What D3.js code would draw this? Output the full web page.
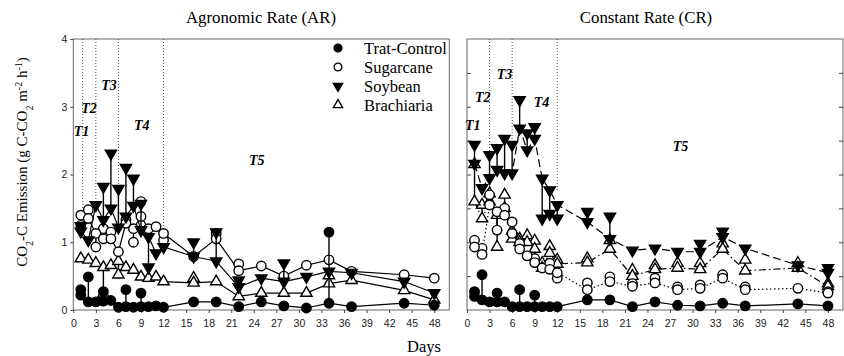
<!DOCTYPE html>
<html>
<head>
<meta charset="utf-8">
<script src="https://cdn.jsdelivr.net/npm/d3@7"></script>
<style>
  body { margin: 0; background: #fff; }
</style>
</head>
<body>
<div id="chart"></div>
<script>
// sampling days
const days = [1, 2, 3, 4, 5, 6, 7, 8, 9, 10, 11, 12, 16, 19, 22, 25, 28, 31, 34, 37, 44, 48];
const seriesNames = ["Trat-Control", "Sugarcane", "Soybean", "Brachiaria"];
const xTicks = [0, 3, 6, 9, 12, 15, 18, 21, 24, 27, 30, 33, 36, 39, 42, 45, 48];
const yTicks = [0, 1, 2, 3, 4];

// Agronomic Rate: means and error (signed, drawn one side)
const arControl = [0.22, 0.12, 0.12, 0.13, 0.14, 0.04, 0.05, 0.04, 0.05, 0.05, 0.06, 0.04, 0.12, 0.12, 0.05, 0.12, 0.06, 0.03, 0.10, 0.05, 0.10, 0.07];
const arControlErr = [0.08, 0.37, 0, 0.14, 0, 0, 0.25, 0, 0.2, 0, 0, 0, 0, 0, 0, 0, 0, 0, 1.05, 0, 0, 0];
const arSugarcane = [1.25, 1.35, 1.13, 1.05, 1.05, 0.86, 1.28, 1.2, 1.38, 1.2, 1.23, 1.13, 0.79, 1.05, 0.58, 0.65, 0.5, 0.66, 0.74, 0.57, 0.52, 0.47];
const arSugarcaneErr = [0.15, 0.13, -0.2, 0.15, 0.1, 0, 0.05, -0.2, 0.22, 0, 0, -0.1, 0, 0.08, 0.1, 0, 0, 0, 0, 0, 0, 0];
const arSoybean = [1.16, 1.03, 1.55, 1.33, 1.5, 1.22, 1.38, 1.54, 1.18, 1.08, 0.84, 0.93, 0.79, 0.72, 0.34, 0.47, 0.42, 0.49, 0.57, 0.55, 0.42, 0.25];
const arSoybeanErr = [0.08, 0, 0, 0.49, 0.81, 0.57, 0.72, 0.4, 0.39, -0.45, 0, 0, 0.21, 0.43, 0.1, 0, 0.27, 0, 0, 0, 0, 0];
const arBrachiaria = [0.76, 0.74, 0.69, 0.63, 0.66, 0.72, 0.63, 0.59, 0.49, 0.47, 0.49, 0.42, 0.4, 0.42, 0.2, 0.25, 0.25, 0.25, 0.39, 0.44, 0.29, 0.15];
const arBrachiariaErr = [0, 0, 0, -0.39, 0, -0.2, 0, 0, 0, 0, 0, 0, 0.07, 0, 0, 0, 0, 0, 0.12, 0, 0, 0];

// Constant Rate
const crControl = [0.2, 0.15, 0.12, 0.12, 0.12, 0.05, 0.05, 0.05, 0.05, 0.05, 0.05, 0.05, 0.15, 0.15, 0.05, 0.12, 0.07, 0.06, 0.1, 0.06, 0.09, 0.06];
const crControlErr = [0.07, 0.37, 0, 0.13, 0, 0, 0.25, 0, 0.17, 0, 0, 0, 0, 0, 0, 0, 0, 0, 0, 0, 0, 0];
const crSugarcane = [0.93, 0.82, 1.55, 1.45, 1.4, 1.3, 0.9, 0.8, 0.7, 0.62, 0.6, 0.55, 0.3, 0.42, 0.35, 0.4, 0.3, 0.32, 0.47, 0.3, 0.32, 0.25];
const crSugarcaneErr = [0.1, 0.09, 0.15, -0.27, 0.1, -0.17, 0.08, 0, 0.06, 0, 0.09, -0.08, 0.1, 0.07, 0.04, 0.07, 0.04, 0.05, 0.05, 0.04, 0, 0.02];
const crSoybean = [2.16, 1.8, 1.95, 2.07, 2.02, 2.02, 2.68, 2.36, 2.53, 1.94, 1.77, 1.55, 1.3, 1.05, 0.88, 0.91, 0.86, 0.86, 1.08, 0.91, 0.66, 0.55];
const crSoybeanErr = [0.28, 0, 0.34, 0.32, 0.51, 0.42, 0.42, 0.25, 0.17, -0.59, -0.35, -0.2, 0.15, 0.33, 0, 0, 0, 0.12, 0.08, 0, 0, 0.07];
const crBrachiaria = [1.6, 1.35, 1.6, 1.4, 1.5, 1.05, 1.0, 1.0, 0.9, 0.62, 0.84, 0.68, 0.7, 0.9, 0.5, 0.6, 0.62, 0.6, 0.9, 0.58, 0.62, 0.35];
const crBrachiariaErr = [0.55, 0.2, 0.12, -0.47, 0.2, 0.12, 0.05, 0.1, 0.12, 0.07, 0.1, 0.06, 0.06, 0.13, 0.09, 0.06, 0.07, 0.09, 0.08, 0.16, 0.07, 0.04];

// phase boundaries (day, lower end of dotted line) and phase labels
const arBoundDays = [1.25, 3, 6, 12];
const arBoundLow = [1.48, 1.57, 1.38, 1.13];
const crBoundDays = [3, 6, 12];
const crBoundLow = [1.92, 2.46, 1.77];
const phaseLabels = ["T1", "T2", "T3", "T4", "T5"];
const arLabelDay = [1.1, 2.1, 4.75, 9.1, 24.4];
const arLabelVal = [2.63, 2.97, 3.32, 2.73, 2.21];
const crLabelDay = [0.76, 2.1, 5.0, 9.9, 28.4];
const crLabelVal = [2.73, 3.13, 3.47, 3.07, 2.41];

const width = 844, height = 356;
const serif = "'Liberation Serif', 'Times New Roman', serif";
const sans = "'Liberation Sans', Arial, sans-serif";

let svg = d3.select("#chart").append("svg")
  .attr("width", width)
  .attr("height", height);

let yScale = d3.scaleLinear().domain([0, 4]).range([310, 39]);

// symbol per series
let symbolGenerator = d3.symbol();
const symbolStyles = [
  { d: symbolGenerator.type(d3.symbolCircle).size(70)(), fill: "#000", rot: 0 },
  { d: symbolGenerator.type(d3.symbolCircle).size(70)(), fill: "#fff", rot: 0 },
  { d: symbolGenerator.type(d3.symbolTriangle).size(55)(), fill: "#000", rot: 180 },
  { d: symbolGenerator.type(d3.symbolTriangle).size(55)(), fill: "#fff", rot: 0 }
];

function drawPanel(opts) {
  let xScale = d3.scaleLinear().domain([0, 50]).range([opts.x0, opts.x1]);
  let g = svg.append("g");

  // frame
  g.append("rect")
    .attr("x", opts.x0).attr("y", yScale(4))
    .attr("width", opts.x1 - opts.x0).attr("height", yScale(0) - yScale(4))
    .attr("fill", "none").attr("stroke", "#666").attr("stroke-width", 1);

  // x axis
  let xAxis = d3.axisBottom(xScale).tickValues(xTicks).tickSize(3).tickSizeOuter(0);
  let gx = g.append("g").attr("transform", `translate(0, ${yScale(0)})`).call(xAxis);
  gx.select(".domain").remove();
  gx.selectAll("line").attr("stroke", "#444");
  gx.selectAll("text").attr("font-family", sans).attr("font-size", 10.5).attr("fill", "#222").attr("dy", "1.0em");

  if (opts.labels) {
    let yAxis = d3.axisLeft(yScale).tickValues(yTicks).tickSize(3).tickSizeOuter(0).tickFormat(d3.format("d"));
    let gy = g.append("g").attr("transform", `translate(${opts.x0}, 0)`).call(yAxis);
    gy.select(".domain").remove();
    gy.selectAll("line").attr("stroke", "#444");
    gy.selectAll("text").attr("font-family", sans).attr("font-size", 10.5).attr("fill", "#222");
  } else {
    let halfTicks = d3.range(0.5, 4, 0.5);
    let gl = g.append("g").attr("transform", `translate(${opts.x0}, 0)`)
      .call(d3.axisLeft(yScale).tickValues(halfTicks).tickSize(-4).tickFormat(""));
    let gr = g.append("g").attr("transform", `translate(${opts.x1}, 0)`)
      .call(d3.axisRight(yScale).tickValues(halfTicks).tickSize(-4).tickFormat(""));
    [gl, gr].forEach(a => { a.select(".domain").remove(); a.selectAll("line").attr("stroke", "#444"); });
  }

  // phase boundaries
  g.append("g").selectAll("line")
    .data(opts.boundDays)
    .enter().append("line")
    .attr("x1", d => xScale(d)).attr("x2", d => xScale(d))
    .attr("y1", yScale(4))
    .attr("y2", (d, i) => yScale(opts.boundLow[i]))
    .attr("stroke", "#555").attr("stroke-width", 1).attr("stroke-dasharray", "1,2");

  // phase labels
  g.append("g").selectAll("text")
    .data(phaseLabels)
    .enter().append("text")
    .attr("x", (d, i) => xScale(opts.labelDay[i]))
    .attr("y", (d, i) => yScale(opts.labelVal[i]))
    .attr("text-anchor", "middle").attr("dominant-baseline", "central")
    .attr("font-family", serif).attr("font-size", 14)
    .attr("font-weight", "bold").attr("font-style", "italic")
    .text(d => d);

  // title
  g.append("text")
    .attr("x", opts.titleX).attr("y", 23)
    .attr("text-anchor", "middle")
    .attr("font-family", serif).attr("font-size", 16.8)
    .text(opts.title);

  // draw order: Brachiaria, Sugarcane, Soybean, Control
  let order = [3, 1, 2, 0];
  let line = d3.line().x((d, i) => xScale(days[i])).y(d => yScale(d));

  order.forEach(s => {
    g.append("path")
      .datum(opts.means[s])
      .attr("d", line)
      .attr("fill", "none").attr("stroke", "#000").attr("stroke-width", 1.2)
      .attr("stroke-dasharray", opts.dashes[s]);
  });

  order.forEach(s => {
    let means = opts.means[s], errs = opts.errs[s];
    let idx = Array.from(Array(means.length).keys());
    let withErr = idx.filter(i => errs[i] !== 0);
    let sg = g.append("g");
    // error bars
    sg.selectAll(".err")
      .data(withErr)
      .enter().append("line")
      .attr("x1", i => xScale(days[i])).attr("x2", i => xScale(days[i]))
      .attr("y1", i => yScale(means[i]))
      .attr("y2", i => yScale(Math.max(0, means[i] + errs[i])))
      .attr("stroke", "#000").attr("stroke-width", 1.4);
    // symbols at error bar ends
    sg.selectAll(".cap")
      .data(withErr.filter(i => means[i] + errs[i] > 0.02))
      .enter().append("path")
      .attr("d", symbolStyles[s].d)
      .attr("transform", i => `translate(${xScale(days[i])}, ${yScale(means[i] + errs[i])}) rotate(${symbolStyles[s].rot})`)
      .attr("fill", symbolStyles[s].fill).attr("stroke", "#000").attr("stroke-width", 1.4);
    // symbols at means
    sg.selectAll(".pt")
      .data(idx)
      .enter().append("path")
      .attr("d", symbolStyles[s].d)
      .attr("transform", i => `translate(${xScale(days[i])}, ${yScale(means[i])}) rotate(${symbolStyles[s].rot})`)
      .attr("fill", symbolStyles[s].fill).attr("stroke", "#000").attr("stroke-width", 1.4);
  });
}

drawPanel({
  x0: 73.3, x1: 449.3, labels: true,
  title: "Agronomic Rate (AR)", titleX: 261,
  means: [arControl, arSugarcane, arSoybean, arBrachiaria],
  errs: [arControlErr, arSugarcaneErr, arSoybeanErr, arBrachiariaErr],
  dashes: [null, null, null, null],
  boundDays: arBoundDays, boundLow: arBoundLow,
  labelDay: arLabelDay, labelVal: arLabelVal
});

drawPanel({
  x0: 467, x1: 843, labels: false,
  title: "Constant Rate (CR)", titleX: 646,
  means: [crControl, crSugarcane, crSoybean, crBrachiaria],
  errs: [crControlErr, crSugarcaneErr, crSoybeanErr, crBrachiariaErr],
  dashes: [null, "1.5,2.5", "8,4", "7,3,1.5,3"],
  boundDays: crBoundDays, boundLow: crBoundLow,
  labelDay: crLabelDay, labelVal: crLabelVal
});

// legend
let legend = svg.append("g");
seriesNames.forEach((name, i) => {
  let yy = 48 + i * 19;
  legend.append("path")
    .attr("d", symbolGenerator.type(i < 2 ? d3.symbolCircle : d3.symbolTriangle).size(i < 2 ? 48 : 38)())
    .attr("transform", `translate(338, ${yy}) rotate(${symbolStyles[i].rot})`)
    .attr("fill", symbolStyles[i].fill).attr("stroke", "#000").attr("stroke-width", 1.3);
  legend.append("text")
    .attr("x", 364).attr("y", yy)
    .attr("dominant-baseline", "central")
    .attr("font-family", serif).attr("font-size", 16.5)
    .text(name);
});

// y axis title
let yTitle = svg.append("text")
  .attr("transform", "translate(27, 162) rotate(-90)")
  .attr("text-anchor", "middle")
  .attr("font-family", serif).attr("font-size", 15);
yTitle.append("tspan").text("CO");
yTitle.append("tspan").attr("baseline-shift", "sub").attr("font-size", 10).text("2");
yTitle.append("tspan").text("-C Emission (g C-CO");
yTitle.append("tspan").attr("baseline-shift", "sub").attr("font-size", 10).text("2");
yTitle.append("tspan").text(" m");
yTitle.append("tspan").attr("baseline-shift", "super").attr("font-size", 10).text("-2");
yTitle.append("tspan").text(" h");
yTitle.append("tspan").attr("baseline-shift", "super").attr("font-size", 10).text("-1");
yTitle.append("tspan").text(")");

// x axis title
svg.append("text")
  .attr("x", 424).attr("y", 352)
  .attr("text-anchor", "middle")
  .attr("font-family", serif).attr("font-size", 16.5)
  .text("Days");
</script>
</body>
</html>
